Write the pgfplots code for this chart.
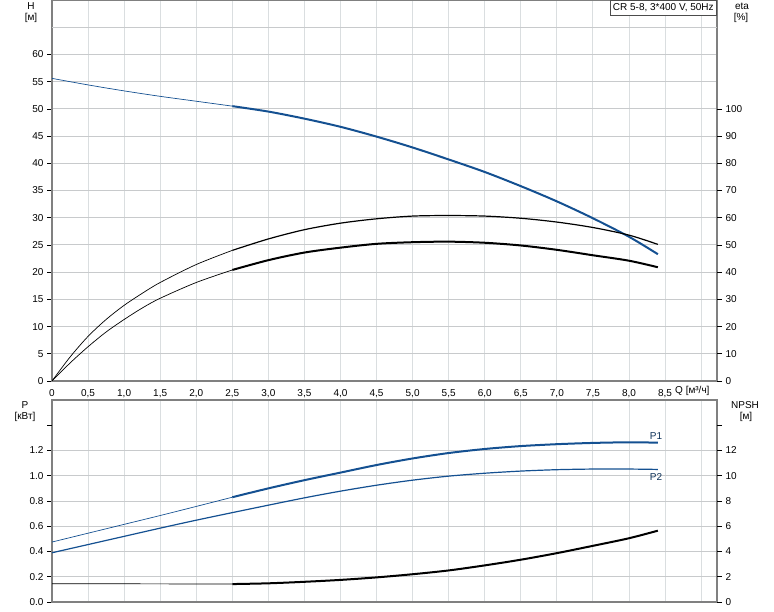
\documentclass[border=0pt]{standalone}
\usepackage{pgfplots}
\pgfplotsset{compat=1.18}
\usepackage{fontspec}
\setmainfont{Liberation Sans}
\definecolor{pblue}{RGB}{20,80,145}
\definecolor{hgrid}{RGB}{200,202,204}
\definecolor{vgrid}{RGB}{218,222,224}
\definecolor{framec}{RGB}{128,128,128}
\pgfplotsset{
  base/.style={
    scale only axis, width=665pt, xmin=0, xmax=9.22,
    /pgf/number format/assume math mode=true,
    axis line style={framec, line width=1.6pt},
    tick style={black, line width=0.6pt},
    major tick length=5pt, tick align=outside,
    every tick label/.append style={font=\fontsize{10}{12}\selectfont, text=black},
    xtick={0,0.5,1,1.5,2,2.5,3,3.5,4,4.5,5,5.5,6,6.5,7,7.5,8,8.5,9},
    xtick style={draw=none},
    x grid style={vgrid, line width=1pt},
    y grid style={hgrid, line width=1pt},
  },
  thin/.style={line width=0.7pt},
  med/.style={line width=1.2pt},
  thick/.style={line width=2pt},
}
\begin{document}
\fontsize{10}{12}\selectfont
\begin{tikzpicture}[font=\fontsize{10}{12}\selectfont]
\useasboundingbox (0,0) rectangle (774pt,611pt);
% ---------------- top: H and eta ----------------
\begin{axis}[base, at={(52pt,230pt)}, anchor=south west, height=381pt,
  ymin=0, ymax=70, xmajorgrids, ymajorgrids,
  xticklabels={0,{0,5},{1,0},{1,5},{2,0},{2,5},{3,0},{3,5},{4,0},{4,5},{5,0},{5,5},{6,0},{6,5},{7,0},{7,5},{8,0},{8,5},{}},
  ytick={0,5,10,15,20,25,30,35,40,45,50,55,60},
  ytick pos=left, yticklabel pos=left]
\draw[hgrid, line width=1pt] (axis cs:0,65) -- (axis cs:9.22,65);
\addplot[pblue, thin, smooth] coordinates {(0,55.6)(0.5,54.4)(1.0,53.3)(1.5,52.3)(2.0,51.4)(2.5,50.5)};
\addplot[pblue, thick, smooth] coordinates {(2.5,50.5)(3.0,49.5)(3.5,48.2)(4.0,46.7)(4.5,44.9)(5.0,42.9)(5.5,40.7)(6.0,38.4)(6.5,35.8)(7.0,33.0)(7.5,29.9)(8.0,26.5)(8.4,23.3)};
\end{axis}
\begin{axis}[base, at={(52pt,230pt)}, anchor=south west, height=381pt,
  ymin=0, ymax=140, axis line style={draw=none}, xtick=\empty,
  ytick={0,10,20,30,40,50,60,70,80,90,100},
  ytick pos=right, yticklabel pos=right]
\addplot[black, thin, smooth] coordinates {(0,0)(0.25,8.8)(0.5,16.4)(0.75,22.6)(1.0,27.8)(1.25,32.2)(1.5,36.2)(2.0,42.8)(2.5,48)};
\addplot[black, med, smooth] coordinates {(2.5,48)(3.0,52.2)(3.5,55.6)(4.0,58)(4.5,59.6)(5.0,60.6)(5.5,60.8)(6.0,60.6)(6.5,59.8)(7.0,58.4)(7.5,56.4)(8.0,53.6)(8.4,50.2)};
\addplot[black, thin, smooth] coordinates {(0,0)(0.25,6.6)(0.5,12.6)(0.75,18)(1.0,22.6)(1.25,26.8)(1.5,30.4)(2.0,36.2)(2.5,40.8)};
\addplot[black, thick, smooth] coordinates {(2.5,40.8)(3.0,44.4)(3.5,47.2)(4.0,49)(4.5,50.4)(5.0,51)(5.5,51.2)(6.0,50.8)(6.5,49.8)(7.0,48.2)(7.5,46.2)(8.0,44.2)(8.4,41.8)};
\end{axis}
% ---------------- bottom: P and NPSH ----------------
\begin{axis}[base, at={(52pt,9pt)}, anchor=south west, height=202pt,
  ymin=0, ymax=1.6, xmajorgrids, ymajorgrids, xticklabels={},
  ytick={0,0.2,0.4,0.6,0.8,1.0,1.2},
  yticklabels={0.0,0.2,0.4,0.6,0.8,1.0,1.2},
  extra y ticks={1.4}, extra y tick labels={}, extra y tick style={grid=none},
  ytick pos=left, yticklabel pos=left]
\addplot[pblue, thin, smooth] coordinates {(0,0.475)(0.5,0.545)(1.0,0.615)(1.5,0.685)(2.0,0.757)(2.5,0.83)};
\addplot[pblue, thick, smooth] coordinates {(2.5,0.83)(3.0,0.90)(3.5,0.965)(4.0,1.025)(4.5,1.085)(5.0,1.137)(5.5,1.18)(6.0,1.212)(6.5,1.235)(7.0,1.25)(7.5,1.26)(8.0,1.265)(8.4,1.262)};
\addplot[pblue, med, smooth] coordinates {(0,0.39)(0.5,0.455)(1.0,0.52)(1.5,0.585)(2.0,0.648)(2.5,0.708)(3.0,0.767)(3.5,0.825)(4.0,0.878)(4.5,0.925)(5.0,0.965)(5.5,0.997)(6.0,1.02)(6.5,1.037)(7.0,1.048)(7.5,1.053)(8.0,1.053)(8.4,1.05)};
\end{axis}
\begin{axis}[base, at={(52pt,9pt)}, anchor=south west, height=202pt,
  ymin=0, ymax=16, axis line style={draw=none}, xtick=\empty,
  ytick={0,2,4,6,8,10,12},
  extra y ticks={14}, extra y tick labels={},
  ytick pos=right, yticklabel pos=right]
\addplot[black, thin] coordinates {(0,1.45)(1.0,1.44)(2.0,1.43)(2.5,1.42)};
\addplot[black, thick, smooth] coordinates {(2.5,1.42)(3.0,1.48)(3.5,1.6)(4.0,1.75)(4.5,1.95)(5.0,2.2)(5.5,2.5)(6.0,2.9)(6.5,3.35)(7.0,3.87)(7.5,4.45)(8.0,5.05)(8.4,5.65)};
\end{axis}
% ---------------- texts ----------------
\node at (31pt,605pt) {H};
\node at (31pt,593pt) {[м]};
\node at (742pt,605pt) {eta};
\node at (741pt,593pt) {[\%]};
\node at (25pt,206pt) {P};
\node at (25pt,194pt) {[кВт]};
\node at (745pt,206pt) {NPSH};
\node at (746pt,194pt) {[м]};
\node[anchor=west, inner sep=0pt] at (675pt,220pt) {Q [м³/ч]};
\node[pblue!60!black] at (656pt,175pt) {P1};
\node[pblue!60!black] at (656pt,134pt) {P2};
\node[draw=black!70, fill=white, anchor=north east, inner xsep=3pt, minimum height=15pt, line width=0.6pt] at (717pt,611pt) {CR 5-8, 3*400 V, 50Hz};
\end{tikzpicture}
\end{document}
